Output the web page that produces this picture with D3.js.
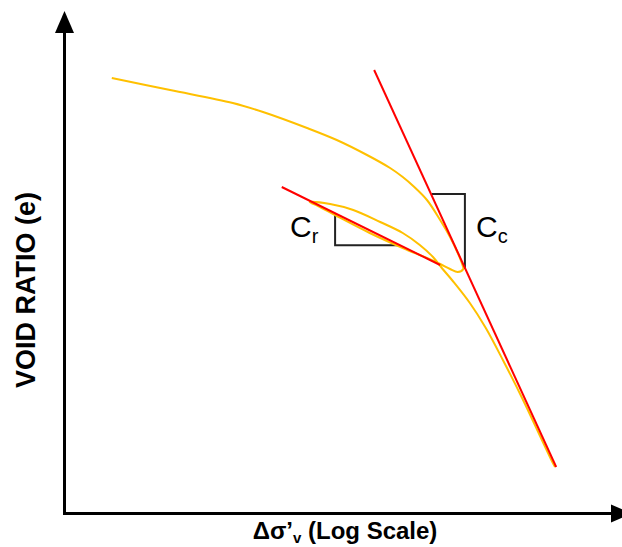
<!DOCTYPE html>
<html>
<head>
<meta charset="utf-8">
<script src="https://cdn.jsdelivr.net/npm/d3@7"></script>
<style>
  html, body { margin: 0; padding: 0; background: #fff; }
  svg { display: block; }
</style>
</head>
<body>
<svg id="chart" width="622" height="547"></svg>
<script>
// ---- Data (x = log of effective vertical stress, arbitrary units; y = void ratio e) ----
const curveLogStress = [0.86, 1.92, 3.06, 3.61, 4.41, 4.95, 5.50, 5.92, 6.15, 6.34, 6.59, 6.83, 7.01, 7.15, 7.23, 7.25,
  7.15, 7.01, 6.83, 6.59, 6.15, 5.55, 4.95, 4.61, 4.46,
  4.83, 5.25, 5.74, 6.15, 6.46, 6.70, 6.86, 7.06, 7.37, 7.66, 7.98, 8.32, 8.68, 8.87, 8.92];
const curveVoidRatio = [1.742, 1.694, 1.642, 1.606, 1.542, 1.494, 1.434, 1.382, 1.346, 1.310, 1.254, 1.174, 1.106, 1.042, 0.998, 0.978,
  0.966, 0.978, 0.998, 1.022, 1.062, 1.122, 1.190, 1.230, 1.246,
  1.238, 1.214, 1.166, 1.122, 1.074, 1.026, 0.982, 0.930, 0.842, 0.742, 0.610, 0.462, 0.294, 0.206, 0.186];

const ccLineX = [5.63, 8.94];
const ccLineY = [1.774, 0.186];
const crLineX = [3.95, 6.83];
const crLineY = [1.306, 0.994];

const crTriX = [4.92, 4.92, 6.10];
const crTriY = [1.201, 1.073, 1.073];
const ccTriX = [6.68, 7.28, 7.28];
const ccTriY = [1.278, 1.278, 0.978];

const xAxisLabel = ["Δσ’", "v", " (Log Scale)"];
const yAxisLabel = "VOID RATIO (e)";
const slopeLabels = [{main: "C", sub: "r"}, {main: "C", sub: "c"}];

// ---- Layout ----
const svg = d3.select("#chart");
const origin = {x: 64.5, y: 513.5};
const x = d3.scaleLinear().domain([0, 10]).range([origin.x, origin.x + 550]);
const y = d3.scaleLinear().domain([0, 2]).range([origin.y, origin.y - 500]);

const zip = (xs, ys) => xs.map((v, i) => [v, ys[i]]);
const line = d3.line().x(d => x(d[0])).y(d => y(d[1]));

// Axes with arrows
svg.append("line").attr("x1", origin.x).attr("y1", origin.y + 1.5).attr("x2", origin.x).attr("y2", 30)
  .attr("stroke", "#000").attr("stroke-width", 3);
svg.append("line").attr("x1", origin.x - 1.5).attr("y1", origin.y).attr("x2", 613).attr("y2", origin.y)
  .attr("stroke", "#000").attr("stroke-width", 3);
svg.append("path").attr("d", `M${origin.x},11 L${origin.x - 9.5},33 L${origin.x + 9.5},33 Z`).attr("fill", "#000");
svg.append("path").attr("d", `M632,${origin.y} L611,${origin.y - 9} L611,${origin.y + 9} Z`).attr("fill", "#000");

// Slope triangles
svg.append("path").attr("d", line(zip(crTriX, crTriY))).attr("fill", "none").attr("stroke", "#222").attr("stroke-width", 2);
svg.append("path").attr("d", line(zip(ccTriX, ccTriY))).attr("fill", "none").attr("stroke", "#222").attr("stroke-width", 2);

// Consolidation curve
svg.append("path").attr("d", line.curve(d3.curveCatmullRom.alpha(0.5))(zip(curveLogStress, curveVoidRatio)))
  .attr("fill", "none").attr("stroke", "#FFC000").attr("stroke-width", 2).attr("stroke-linejoin", "round");
line.curve(d3.curveLinear);

// Red tangent lines
svg.append("path").attr("d", line(zip(ccLineX, ccLineY))).attr("fill", "none").attr("stroke", "#FF0000").attr("stroke-width", 2);
svg.append("path").attr("d", line(zip(crLineX, crLineY))).attr("fill", "none").attr("stroke", "#FF0000").attr("stroke-width", 2);

// Slope labels
const labelPos = [[290, 237], [476, 237]];
slopeLabels.forEach((l, i) => {
  const t = svg.append("text").attr("x", labelPos[i][0]).attr("y", labelPos[i][1])
    .attr("font-family", "Liberation Sans, Arial, sans-serif").attr("font-size", 30).attr("fill", "#000");
  t.append("tspan").text(l.main);
  t.append("tspan").attr("dy", 6).attr("font-size", 20).text(l.sub);
});

// Axis titles
const xt = svg.append("text").attr("x", 345).attr("y", 539).attr("text-anchor", "middle")
  .attr("font-family", "Liberation Sans, Arial, sans-serif").attr("font-weight", "bold").attr("font-size", 24).attr("fill", "#000");
xt.append("tspan").text(xAxisLabel[0]);
xt.append("tspan").attr("dy", 4).attr("font-size", 15).text(xAxisLabel[1]);
xt.append("tspan").attr("dy", -4).text(xAxisLabel[2]);

svg.append("text").attr("transform", "translate(35,290) rotate(-90)").attr("text-anchor", "middle")
  .attr("font-family", "Liberation Sans, Arial, sans-serif").attr("font-weight", "bold").attr("font-size", 27).attr("fill", "#000")
  .text(yAxisLabel);
</script>
</body>
</html>
